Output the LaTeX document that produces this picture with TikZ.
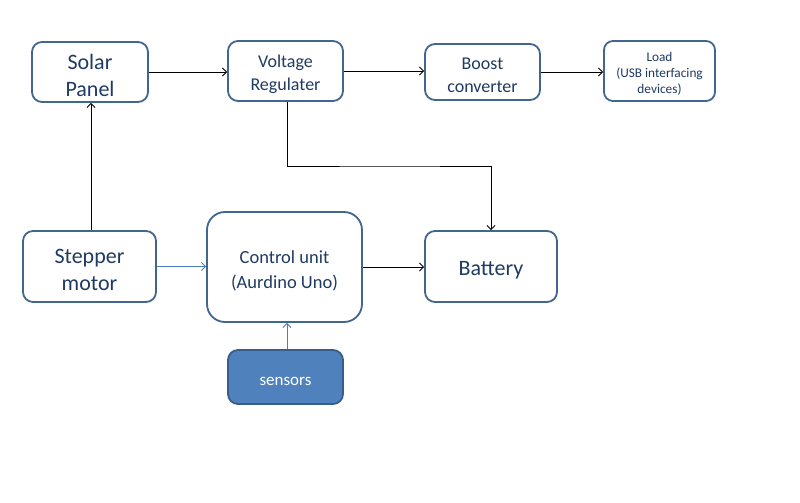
\documentclass[tikz,border=0pt]{standalone}
\usepackage{fontspec}
\setmainfont{Carlito}
\usetikzlibrary{arrows.meta}
\definecolor{boxline}{HTML}{41668F}
\definecolor{boxtext}{HTML}{1F3B63}
\definecolor{sensfill}{HTML}{4F81BD}
\definecolor{sensline}{HTML}{385D8A}
\definecolor{bluearr}{HTML}{4A7EBB}
\newcommand\lwr[1]{\rule{0pt}{#1}}
\tikzset{
  blk/.style={draw=boxline, line width=1.8pt, rounded corners=10pt, fill=white,
    text=boxtext, align=center, inner sep=0pt},
  arr/.style={draw=black, line width=0.9pt, -{Straight Barb[length=4pt,width=8pt]}},
  barr/.style={draw=bluearr, line width=0.9pt, -{Straight Barb[length=4pt,width=8pt]}},
}
\begin{document}
\begin{tikzpicture}[x=1pt,y=-1pt]
\useasboundingbox (0,0) rectangle (800,503);
\node[blk, minimum width=116pt, minimum height=60pt, font=\fontsize{22}{27}\selectfont] (solar) at (90,72) {\lwr{22pt}Solar\\Panel};
\node[blk, minimum width=115pt, minimum height=60pt, font=\fontsize{18}{23}\selectfont] (volt) at (285.5,71) {\lwr{20pt}Voltage\\Regulater};
\node[blk, minimum width=115pt, minimum height=56pt, font=\fontsize{18}{23}\selectfont] (boost) at (482.5,72) {\lwr{19pt}Boost\\converter};
\node[blk, minimum width=111pt, minimum height=60pt, rounded corners=9pt, font=\fontsize{13.3}{16}\selectfont] (load) at (659.5,71) {\lwr{15pt}Load\\(USB interfacing\\devices)};
\node[blk, minimum width=133pt, minimum height=71pt, font=\fontsize{22}{27}\selectfont] (step) at (89.5,266.5) {\lwr{21pt}Stepper\\motor};
\node[blk, minimum width=155pt, minimum height=110pt, rounded corners=18pt, font=\fontsize{18.5}{25}\selectfont] (ctrl) at (284.5,267) {\lwr{21pt}Control unit\\(Aurdino Uno)};
\node[blk, minimum width=132pt, minimum height=71pt, font=\fontsize{22}{27}\selectfont] (batt) at (491,266.5) {\lwr{22pt}Battery};
\node[blk, draw=sensline, fill=sensfill, text=white, minimum width=115pt, minimum height=54pt, font=\fontsize{17}{21}\selectfont] (sens) at (285.5,377) {\lwr{17pt}sensors};

\draw[arr] (solar.east) -- (solar.east -| volt.west);
\draw[arr] (volt.east) -- (volt.east -| boost.west);
\draw[arr] (boost.east) -- (boost.east -| load.west);
\draw[arr] ([xshift=1.5pt]step.north) -- ([xshift=1.5pt]step.north |- solar.south);
\draw[arr] ([xshift=1.5pt]volt.south) |- (390,166) -| (batt.north);
\draw[barr] (step.east) -- (step.east -| ctrl.west);
\draw[arr] (ctrl.east) -- (ctrl.east -| batt.west);
\draw[barr] ([xshift=1.5pt]sens.north) -- ([xshift=1.5pt]sens.north |- ctrl.south);
\end{tikzpicture}
\end{document}
